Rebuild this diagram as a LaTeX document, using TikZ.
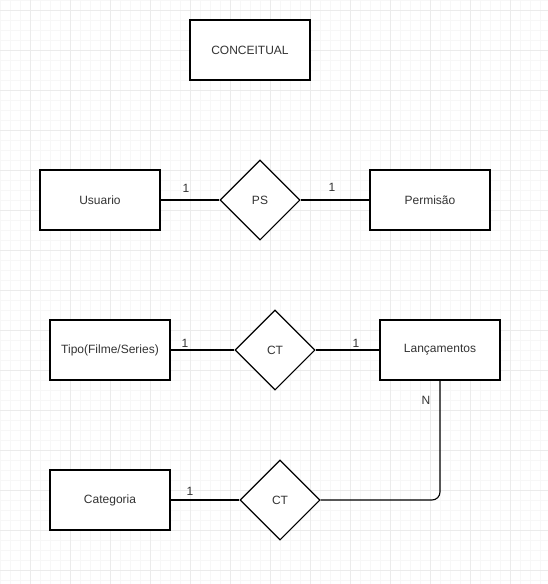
\documentclass[tikz,border=0pt]{standalone}
\usepackage{fontspec}
\setmainfont{Liberation Sans}
\usetikzlibrary{shapes.geometric}
\definecolor{gridminor}{HTML}{F7F7F7}
\definecolor{gridmajor}{HTML}{EBEBEB}
\definecolor{txt}{HTML}{333333}
\begin{document}
\begin{tikzpicture}[x=1pt,y=-1pt,
  entity/.style={draw=black,line width=1.1pt,fill=white,minimum width=120pt,minimum height=60pt,inner sep=0pt,text=txt,font=\fontsize{12pt}{14pt}\selectfont},
  rel/.style={draw=black,line width=1.1pt,fill=white,diamond,minimum width=80pt,minimum height=80pt,inner sep=0pt,aspect=1,text=txt,font=\fontsize{12pt}{14pt}\selectfont},
  conn/.style={draw=black,line width=1.1pt},
  card/.style={text=txt,font=\fontsize{12pt}{14pt}\selectfont,inner sep=0pt}]
\useasboundingbox (0,0) rectangle (548,584);
\fill[white] (0,0) rectangle (548,584);
\foreach \i in {0,10,...,580} {\draw[gridminor,line width=0.8pt] (0,\i) -- (548,\i);}
\foreach \i in {0,10,...,540} {\draw[gridminor,line width=0.8pt] (\i,0) -- (\i,584);}
\foreach \i in {10,50,...,570} {\draw[gridmajor,line width=0.9pt] (0,\i) -- (548,\i);}
\foreach \i in {30,70,...,540} {\draw[gridmajor,line width=0.9pt] (\i,0) -- (\i,584);}

\node[entity] (conc) at (250,50) {CONCEITUAL};
\node[entity] (usu) at (100,200) {Usuario};
\node[rel] (ps) at (260,200) {PS};
\node[entity] (perm) at (430,200) {Permisão};
\node[entity] (tipo) at (110,350) {Tipo(Filme/Series)};
\node[rel] (ct1) at (275,350) {CT};
\node[entity] (lanc) at (440,350) {Lançamentos};
\node[entity] (cat) at (110,500) {Categoria};
\node[rel] (ct2) at (280,500) {CT};

\draw[conn] (usu.east) -- (ps.west);
\draw[conn] (ps.east) -- (perm.west);
\draw[conn] (tipo.east) -- (ct1.west);
\draw[conn] (ct1.east) -- (lanc.west);
\draw[conn] (cat.east) -- (ct2.west);
\draw[conn,rounded corners=8pt] (lanc.south) |- (ct2.east);

\node[card] (c1) at (186,188) {1};
\node[card] (c2) at (332,187) {1};
\node[card] (c3) at (185,343) {1};
\node[card] (c4) at (356,343) {1};
\node[card] (c5) at (190,491) {1};
\node[card] (c6) at (426,400) {N};
\end{tikzpicture}
\end{document}
